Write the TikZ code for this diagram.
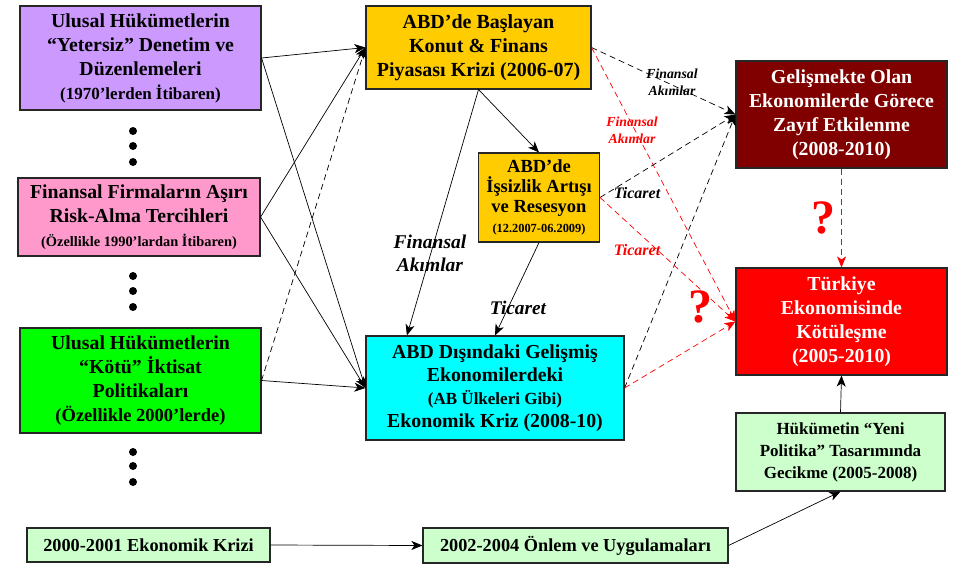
\documentclass[tikz,border=0pt]{standalone}
\usepackage{fontspec}
\setmainfont{Liberation Serif}
\usetikzlibrary{arrows.meta,calc}

\definecolor{lila}{HTML}{CC99FF}
\definecolor{pembe}{HTML}{FF99CC}
\definecolor{yesil}{HTML}{00FF00}
\definecolor{acikyesil}{HTML}{CCFFCC}
\definecolor{sari}{HTML}{FFCC00}
\definecolor{camgobegi}{HTML}{00FFFF}
\definecolor{bordo}{HTML}{800000}
\definecolor{kirmizi}{HTML}{FF0000}

\newcommand{\anasz}{\fontsize{19.8}{24}\selectfont}
\newcommand{\altsz}{\fontsize{17}{20}\selectfont}

\begin{document}
\begin{tikzpicture}[x=1pt,y=-1pt,
    kutu/.style={draw=black!85, line width=1.1pt, align=center, font=\bfseries\anasz, inner sep=1pt},
    ok/.style={-{Stealth[length=11pt,width=9pt,inset=3pt]}, line width=0.7pt},
    kesik/.style={ok, dash pattern=on 6pt off 4pt},
    etiket/.style={font=\bfseries\itshape, align=center, inner sep=0pt}]
    \useasboundingbox (0,0) rectangle (957,565);

    % sol sutun
    \node[kutu, fill=lila, minimum width=241pt, minimum height=104pt] (A) at (140.5,58)
        {Ulusal Hükümetlerin\\“Yetersiz” Denetim ve\\Düzenlemeleri\\{\altsz (1970’lerden İtibaren)}};
    \node[kutu, fill=pembe, minimum width=242pt, minimum height=78pt] (B) at (139,217)
        {Finansal Firmaların Aşırı\\Risk-Alma Tercihleri\\{\fontsize{14.4}{18}\selectfont (Özellikle 1990’lardan İtibaren)}};
    \node[kutu, fill=yesil, minimum width=241pt, minimum height=105pt] (C) at (140.5,380.5)
        {Ulusal Hükümetlerin\\“Kötü” İktisat\\Politikaları\\{\fontsize{18.5}{22}\selectfont (Özellikle 2000’lerde)}};

    \foreach \y in {131,146,162,276,291,307,452,466,482}
        \fill (133,\y) circle (4pt);

    % alt satir
    \node[kutu, fill=acikyesil, font=\bfseries\fontsize{18.3}{20}\selectfont, minimum width=243pt, minimum height=34pt] (D) at (148.5,545)
        {2000-2001 Ekonomik Krizi};
    \node[kutu, fill=acikyesil, font=\bfseries\fontsize{18.3}{20}\selectfont, minimum width=305pt, minimum height=35pt] (E) at (575.5,545.5)
        {2002-2004 Önlem ve Uygulamaları};

    % orta sutun
    \node[kutu, fill=sari, font=\bfseries\fontsize{20}{24}\selectfont, minimum width=225pt, minimum height=83pt] (F) at (478.5,47.5)
        {ABD’de Başlayan\\Konut \& Finans\\Piyasası Krizi (2006-07)};
    \node[kutu, fill=sari, font=\bfseries\fontsize{18.5}{20}\selectfont, minimum width=121pt, minimum height=89pt] (G) at (539,197.5)
        {ABD’de\\İşsizlik Artışı\\ve Resesyon\\{\fontsize{12.4}{16}\selectfont (12.2007-06.2009)}};
    \node[kutu, fill=camgobegi, font=\bfseries\fontsize{19.8}{23}\selectfont, minimum width=258pt, minimum height=104pt] (H) at (495,388)
        {ABD Dışındaki Gelişmiş\\Ekonomilerdeki\\{\altsz (AB Ülkeleri Gibi)}\\Ekonomik Kriz (2008-10)};

    % sag sutun
    \node[kutu, fill=bordo, text=white, minimum width=211pt, minimum height=107pt] (I) at (841.5,114.5)
        {Gelişmekte Olan\\Ekonomilerde Görece\\Zayıf Etkilenme\\(2008-2010)};
    \node[kutu, fill=kirmizi, text=white, minimum width=211pt, minimum height=107pt] (J) at (841.5,321.5)
        {Türkiye\\Ekonomisinde\\Kötüleşme\\(2005-2010)};
    \node[kutu, fill=acikyesil, font=\bfseries\fontsize{17}{22}\selectfont, minimum width=209pt, minimum height=78pt] (K) at (840.5,452)
        {Hükümetin “Yeni\\Politika” Tasarımında\\Gecikme (2005-2008)};

    % oklar
    \foreach \a/\b in {A/F, A/H, B/F, B/H, C/H}
        \draw[ok] (\a.east) -- (\b.west);
    \draw[kesik] (C.east) -- (F.west);
    \draw[ok] (F.south) -- (G.north);
    \draw[ok] (F.south) -- ($(H.north west)!0.16!(H.north east)$);
    \draw[ok] (G.south) -- (H.north);

    \foreach \a in {F, G, H}
        \draw[kesik] (\a.east) -- (I.west);
    \foreach \a in {F, G, H}
        \draw[kesik, kirmizi] (\a.east) -- (J.west);
    \draw[kesik, kirmizi] (I.south) -- (J.north);

    \draw[ok] (K.north) -- (J.south);
    \draw[ok] (D.east) -- (E.west);
    \draw[ok] (E.east) -- (K.south);

    % etiketler
    \node[etiket, font=\bfseries\itshape\fontsize{19.5}{23}\selectfont] (finA) at (430,253) {Finansal\\Akımlar};
    \node[etiket, font=\bfseries\itshape\fontsize{19.3}{22}\selectfont] (ticA) at (518,308) {Ticaret};
    \node[etiket, font=\bfseries\itshape\fontsize{13.8}{17}\selectfont] (finB) at (672,82) {Finansal\\Akımlar};
    \node[etiket, text=kirmizi, font=\bfseries\itshape\fontsize{13.8}{17}\selectfont] (finC) at (632,130) {Finansal\\Akımlar};
    \node[etiket, font=\bfseries\itshape\fontsize{16}{18}\selectfont] (ticB) at (637,193) {Ticaret};
    \node[etiket, text=kirmizi, font=\bfseries\itshape\fontsize{16}{18}\selectfont] (ticC) at (637,250) {Ticaret};
    \node[etiket, text=kirmizi, font=\bfseries\fontsize{48}{52}\selectfont] (soru1) at (823,218) {?};
    \node[etiket, text=kirmizi, font=\bfseries\fontsize{48}{52}\selectfont] (soru2) at (700,307) {?};
\end{tikzpicture}
\end{document}
